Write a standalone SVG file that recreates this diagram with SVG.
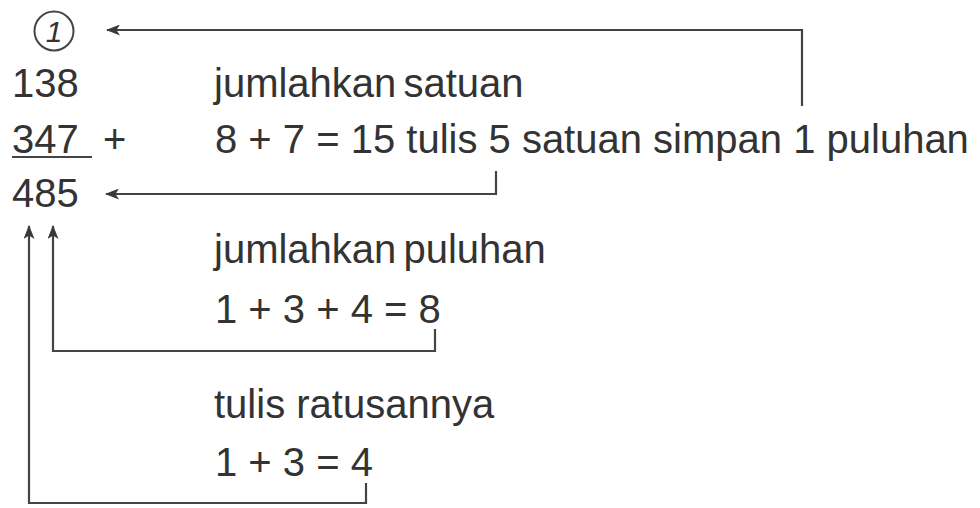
<svg xmlns="http://www.w3.org/2000/svg" width="980" height="508" viewBox="0 0 980 508">
  <defs>
    <marker id="ah" viewBox="0 0 14 11" refX="13" refY="5.5" markerWidth="14" markerHeight="11" markerUnits="userSpaceOnUse" orient="auto">
      <path d="M0,0 L14,5.5 L0,11 L3.5,5.5 z" fill="#3a3a3a"/>
    </marker>
  </defs>
  <style>
    text { font-family: "Liberation Sans", Arial, sans-serif; font-size: 40px; fill: #333; }
    .ln { fill: none; stroke: #444; stroke-width: 2.2; }
    .arr { fill: none; stroke: #444; stroke-width: 2.2; marker-end: url(#ah); }
  </style>
  <rect width="980" height="508" fill="#fff"/>
  <g id="carry">
    <circle cx="54" cy="31" r="19.5" fill="none" stroke="#444" stroke-width="2"/>
    <text x="54" y="42" text-anchor="middle" font-style="italic" style="font-size:30px">1</text>
  </g>
  <g id="sum">
    <text x="12" y="97">138</text>
    <text x="12" y="153">347</text>
    <line x1="12" y1="157" x2="92" y2="157" class="ln"/>
    <text x="103" y="153">+</text>
    <text x="12" y="207">485</text>
  </g>
  <g id="step1">
    <text x="214" y="97" word-spacing="-4">jumlahkan satuan</text>
    <text x="215" y="153">8 + 7 = 15 tulis 5 satuan simpan 1 puluhan</text>
  </g>
  <g id="step2">
    <text x="214" y="263" word-spacing="-4">jumlahkan puluhan</text>
    <text x="215" y="323">1 + 3 + 4 = 8</text>
  </g>
  <g id="step3">
    <text x="214" y="418">tulis ratusannya</text>
    <text x="215" y="476">1 + 3 = 4</text>
  </g>
  <g id="connectors">
    <path class="arr" d="M802,106 V30 H107"/>
    <path class="arr" d="M496,171 V194 H106"/>
    <path class="arr" d="M435,329 V351 H53 V226"/>
    <path class="arr" d="M366,483 V503 H29 V226"/>
  </g>
</svg>
